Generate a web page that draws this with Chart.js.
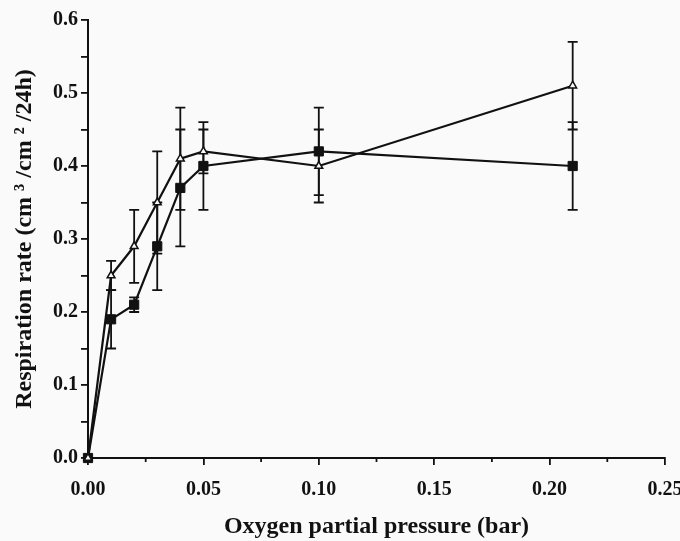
<!DOCTYPE html>
<html>
<head>
<meta charset="utf-8">
<script src="https://cdn.jsdelivr.net/npm/chart.js@4.4.1/dist/chart.umd.min.js"></script>
<style>
  html, body { margin: 0; padding: 0; background: #fafafa; }
  #wrap { width: 680px; height: 541px; }
</style>
</head>
<body>
<div id="wrap"><canvas id="c" width="680" height="541"></canvas></div>
<script>
// Oxygen partial pressure (bar)
const oxygenPressure = [0, 0.01, 0.02, 0.03, 0.04, 0.05, 0.10, 0.21];
// Open triangles
const triangleRate = [0, 0.25, 0.29, 0.35, 0.41, 0.42, 0.40, 0.51];
const triangleErr  = [0, 0.02, 0.05, 0.07, 0.07, 0.03, 0.05, 0.06];
// Filled squares
const squareRate = [0, 0.19, 0.21, 0.29, 0.37, 0.40, 0.42, 0.40];
const squareErr  = [0, 0.04, 0.01, 0.06, 0.08, 0.06, 0.06, 0.06];

const xMajorLabels = ['0.00', '0.05', '0.10', '0.15', '0.20', '0.25'];
const yMajorLabels = ['0.0', '0.1', '0.2', '0.3', '0.4', '0.5', '0.6'];

const INK = '#111';
const FONT = "'Liberation Serif', 'Times New Roman', serif";

function toPoints(xs, ys, errs) {
  return xs.map((x, i) => ({ x: x, y: ys[i], err: errs[i] }));
}
function isMajor(v, step) {
  const k = Math.round(v / step * 1000) / 1000;
  return Number.isInteger(k) ? k : -1;
}

const errorBars = {
  id: 'errorBars',
  beforeDatasetsDraw(chart) {
    const ctx = chart.ctx;
    const xs = chart.scales.x, ys = chart.scales.y;
    ctx.save();
    ctx.strokeStyle = INK;
    ctx.lineWidth = 1.8;
    chart.data.datasets.forEach(ds => {
      ds.data.forEach(p => {
        if (!p.err) return;
        const px = xs.getPixelForValue(p.x);
        const top = ys.getPixelForValue(p.y + p.err);
        const bot = ys.getPixelForValue(p.y - p.err);
        const cap = 5;
        ctx.beginPath();
        ctx.moveTo(px, top); ctx.lineTo(px, bot);
        ctx.moveTo(px - cap, top); ctx.lineTo(px + cap, top);
        ctx.moveTo(px - cap, bot); ctx.lineTo(px + cap, bot);
        ctx.stroke();
      });
    });
    // minor x ticks (shorter)
    xs.ticks.forEach(t => {
      if (isMajor(t.value, 0.05) >= 0) return;
      const px = xs.getPixelForValue(t.value);
      ctx.beginPath();
      ctx.moveTo(px, xs.top);
      ctx.lineTo(px, xs.top + 4);
      ctx.stroke();
    });
    ctx.restore();
  }
};

new Chart(document.getElementById('c'), {
  type: 'line',
  data: {
    datasets: [
      {
        label: 'triangles',
        data: toPoints(oxygenPressure, triangleRate, triangleErr),
        borderColor: INK,
        borderWidth: 2.2,
        pointStyle: 'triangle',
        pointRadius: 4.5,
        pointBackgroundColor: '#fafafa',
        pointBorderColor: INK,
        pointBorderWidth: 1.5,
        tension: 0,
        clip: false
      },
      {
        label: 'squares',
        data: toPoints(oxygenPressure, squareRate, squareErr),
        borderColor: INK,
        borderWidth: 2.2,
        pointStyle: 'rect',
        pointRadius: 6.5,
        pointBackgroundColor: INK,
        pointBorderColor: INK,
        pointBorderWidth: 1,
        tension: 0,
        clip: false
      }
    ]
  },
  options: {
    responsive: false,
    animation: false,
    devicePixelRatio: 1,
    layout: { padding: { left: 0, right: 15, top: 20, bottom: 0 } },
    plugins: { legend: { display: false }, tooltip: { enabled: false } },
    scales: {
      x: {
        type: 'linear',
        min: 0, max: 0.25,
        border: { display: true, color: INK, width: 2 },
        grid: {
          drawOnChartArea: false, drawTicks: true, tickLength: 7, lineWidth: 1.8,
          color: ctx => (ctx.tick && isMajor(ctx.tick.value, 0.05) >= 0) ? INK : 'rgba(0,0,0,0)'
        },
        ticks: {
          stepSize: 0.025,
          autoSkip: false,
          maxRotation: 0,
          padding: 13,
          color: INK,
          font: { family: FONT, size: 20, weight: 'bold' },
          callback: function (v) {
            const k = isMajor(v, 0.05);
            return k >= 0 ? xMajorLabels[k] : '';
          }
        },
        title: {
          display: true,
          text: 'Oxygen partial pressure (bar)',
          color: INK,
          font: { family: FONT, size: 24, weight: 'bold' },
          padding: { top: 10, bottom: 0 }
        },
        afterFit(scale) { scale.height = 83; scale.paddingRight = 15; scale.paddingLeft = 0; }
      },
      y: {
        type: 'linear',
        min: 0, max: 0.6,
        border: { display: true, color: INK, width: 2 },
        grid: { drawOnChartArea: false, drawTicks: true, tickLength: 7, color: INK, lineWidth: 1.8 },
        ticks: {
          stepSize: 0.05,
          autoSkip: false,
          padding: 3,
          color: INK,
          font: { family: FONT, size: 20, weight: 'bold' },
          callback: function (v) {
            const k = isMajor(v, 0.1);
            return k >= 0 ? yMajorLabels[k] : '';
          }
        },
        title: {
          display: true,
          text: 'Respiration rate (cm ³ /cm ² /24h)',
          color: INK,
          font: { family: FONT, size: 24, weight: 'bold' },
          padding: { top: 10, bottom: 0 }
        },
        afterFit(scale) { scale.width = 88; scale.paddingTop = 0; scale.paddingBottom = 0; }
      }
    }
  },
  plugins: [errorBars]
});
</script>
</body>
</html>
